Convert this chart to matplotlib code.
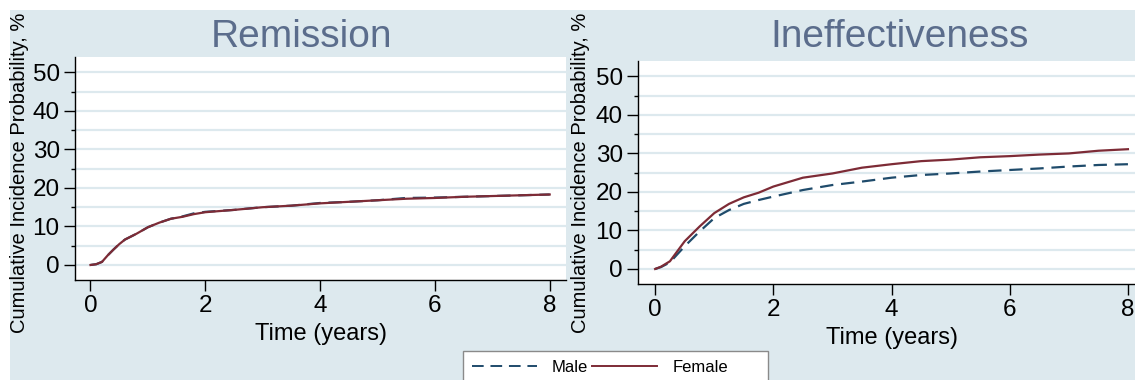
import numpy as np
import matplotlib.pyplot as plt
from matplotlib.patches import Rectangle
from matplotlib.lines import Line2D

# 読み取った値（年, %）
rem_time = [0, 0.1, 0.2, 0.3, 0.4, 0.5, 0.6, 0.8, 1.0, 1.2, 1.4, 1.6, 1.8, 2.0,
            2.5, 3.0, 3.5, 4.0, 4.5, 5.0, 5.5, 6.0, 6.5, 7.0, 7.5, 8.0]
rem_male = [0, 0.2, 0.8, 2.5, 4.0, 5.4, 6.6, 8.1, 9.8, 11.0, 12.0, 12.6, 13.4, 13.8,
            14.3, 15.0, 15.4, 16.1, 16.4, 16.8, 17.4, 17.5, 17.7, 17.9, 18.1, 18.3]
rem_female = [0, 0.2, 0.8, 2.5, 4.0, 5.4, 6.6, 8.1, 9.8, 11.0, 12.0, 12.5, 13.2, 13.7,
              14.3, 15.0, 15.4, 16.0, 16.4, 16.8, 17.2, 17.4, 17.7, 17.9, 18.1, 18.3]

inef_time = [0, 0.1, 0.25, 0.5, 0.75, 1.0, 1.25, 1.5, 1.75, 2.0, 2.5, 3.0, 3.5, 4.0,
             4.5, 5.0, 5.5, 6.0, 6.5, 7.0, 7.5, 8.0]
inef_male = [0, 0.5, 1.7, 5.9, 9.7, 13.2, 15.3, 16.9, 17.9, 18.8, 20.5, 21.8, 22.7, 23.7,
             24.4, 24.8, 25.3, 25.7, 26.1, 26.6, 27.0, 27.2]
inef_female = [0, 0.6, 2.0, 7.2, 11.0, 14.5, 16.9, 18.6, 19.8, 21.4, 23.7, 24.8, 26.3, 27.2,
               28.0, 28.4, 29.0, 29.3, 29.7, 30.0, 30.7, 31.1]

panels = [
    ('Remission', rem_time, rem_male, rem_female),
    ('Ineffectiveness', inef_time, inef_male, inef_female),
]

W, H = 1135, 380
bg = '#dde9ee'
male_c = '#1f4b6b'
female_c = '#7d2b36'

plt.rcParams['font.family'] = ['Liberation Sans', 'DejaVu Sans']

fig = plt.figure(figsize=(W / 100, H / 100), dpi=100, facecolor='white')
fig.patches.append(Rectangle((10 / W, 0), 1, 1 - 10 / H, transform=fig.transFigure,
                             facecolor=bg, edgecolor='none', zorder=-10))

# 軸の位置（ピクセル: 左, 上, 右, 下）
boxes = [(75, 57, 566, 280), (638, 61, 1135, 284)]
title_x = [302, 900]
xlabel_x = [321, 892]
xlabel_y = [334, 338]
ylabel_x = [20, 580]

for (title, t, m, f), (l, tp, r, b), tx, xx, xy, yx in zip(panels, boxes, title_x, xlabel_x,
                                                             xlabel_y, ylabel_x):
    ax = fig.add_axes([l / W, 1 - b / H, (r - l) / W, (b - tp) / H])
    ax.set_facecolor('white')
    ax.plot(t, m, color=male_c, lw=1.6, dashes=(6, 3.5))
    ax.plot(t, f, color=female_c, lw=1.6)
    ax.set_ylim(-3.9, 54)
    x0 = -0.27 if l < 500 else -0.29
    ax.set_xlim(x0, x0 + (r - l) / (57.4 if l < 500 else 59.1))
    ax.set_yticks(np.arange(0, 51, 10))
    ax.set_yticks(np.arange(5, 50, 10), minor=True)
    ax.set_xticks(np.arange(0, 9, 2))
    for y in np.arange(0, 51, 5):
        ax.axhline(y, color=bg, lw=1.6, zorder=0)
    for s in ['top', 'right']:
        ax.spines[s].set_visible(False)
    for s in ['left', 'bottom']:
        ax.spines[s].set_linewidth(1.0)
    ax.tick_params(axis='both', which='major', length=8, width=1, labelsize=17.5, pad=3)
    ax.tick_params(axis='y', which='minor', length=3, width=1)
    fig.text(tx / W, 1 - 37 / H, title, ha='center', va='center', fontsize=28, color='#5b6d8c')
    fig.text(xx / W, 1 - xy / H, 'Time (years)', ha='center', va='center', fontsize=17)
    fig.text(yx / W, 1 - 173 / H, 'Cumulative Incidence Probability, %', ha='center', va='center',
             rotation=90, fontsize=14.5)

# 凡例
fig.patches.append(Rectangle((463 / W, -0.05), 305 / W, 0.05 + 29 / H, transform=fig.transFigure,
                             facecolor='white', edgecolor='#8a8a8a', lw=1, zorder=5))
handles = [Line2D([], [], color=male_c, lw=1.4, dashes=(6, 3.5)),
           Line2D([], [], color=female_c, lw=1.4)]
leg = fig.legend(handles, ['Male', 'Female'], loc='center left', bbox_to_anchor=(472 / W, 1 - 367 / H),
                 ncol=2, frameon=False, fontsize=12, handlelength=3.9, handletextpad=0.9,
                 columnspacing=0.25, borderpad=0, borderaxespad=0)
leg.set_zorder(6)

fig.savefig('out.png', dpi=100, facecolor='white')
